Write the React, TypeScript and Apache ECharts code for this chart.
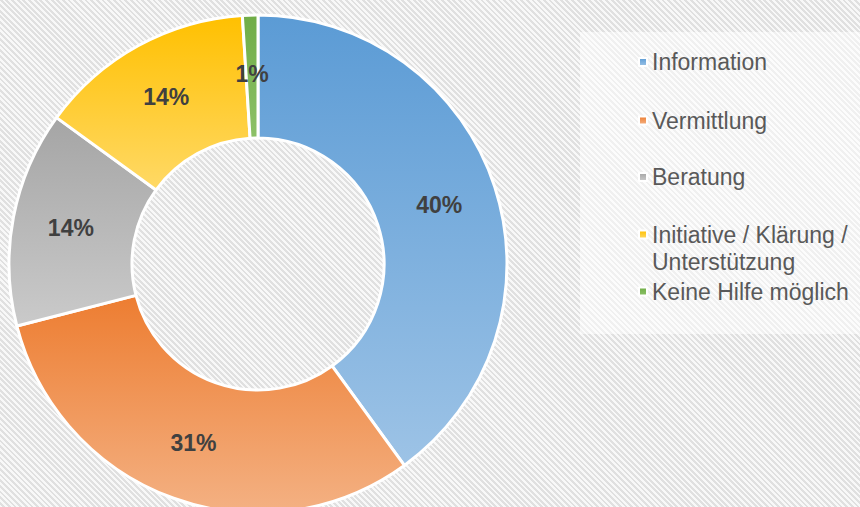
import React, { useEffect, useRef } from "react";
import * as echarts from "echarts";

const categories = [
  "Information",
  "Vermittlung",
  "Beratung",
  "Initiative / Klärung / Unterstützung",
  "Keine Hilfe möglich",
];
const values = [40, 31, 14, 14, 1];
const legendLabels = [
  "Information",
  "Vermittlung",
  "Beratung",
  "\nInitiative / Klärung /\nUnterstützung",
  "Keine Hilfe möglich",
];
const topColors = ["#5b9bd5", "#ed7d31", "#a5a5a5", "#ffc000", "#70ad47"];
const bottomColors = ["#9dc3e6", "#f4b183", "#cacaca", "#ffd966", "#8cc168"];
const legendTops = [48.5, 107, 163.5, 194, 278];

const FONT = "'Liberation Sans', Arial, sans-serif";

export default function App() {
  const ref = useRef<HTMLDivElement>(null);
  useEffect(() => {
    if (!ref.current) return;
    const chart = echarts.init(ref.current, undefined, { renderer: "svg" });
    const data = categories.map((name, i) => ({
      name,
      value: values[i],
      itemStyle: {
        color: new echarts.graphic.LinearGradient(0, 0, 0, 1, [
          { offset: 0, color: topColors[i] },
          { offset: 1, color: bottomColors[i] },
        ]),
      },
    }));
    const legends = categories.map((name, i) => ({
      data: [name],
      left: 638,
      top: legendTops[i],
      orient: "vertical",
      icon: "rect",
      itemWidth: 8,
      itemHeight: 8,
      padding: 0,
      selectedMode: false,
      formatter: () => legendLabels[i],
      textStyle: {
        color: "#595959",
        fontSize: 23,
        lineHeight: 27,
        fontFamily: FONT,
      },
    }));
    chart.setOption({
      animation: false,
      backgroundColor: "transparent",
      graphic: [
        {
          type: "rect",
          left: 580,
          top: 32,
          shape: { width: 280, height: 302 },
          style: { fill: "rgba(255,255,255,0.5)" },
          silent: true,
          z: -1,
        },
      ],
      legend: legends,
      series: [
        {
          type: "pie",
          center: [258, 264],
          radius: [126, 249],
          startAngle: 90,
          clockwise: true,
          avoidLabelOverlap: false,
          itemStyle: { borderColor: "#ffffff", borderWidth: 3 },
          label: {
            show: true,
            position: "inside",
            formatter: (p: any) => Math.round(p.percent) + "%",
            color: "#404040",
            fontSize: 23,
            fontWeight: "bold",
            fontFamily: FONT,
          },
          labelLine: { show: false },
          emphasis: { disabled: true },
          data,
        },
      ],
    });
    return () => chart.dispose();
  }, []);
  return (
    <div
      ref={ref}
      style={{
        position: "absolute",
        left: 0,
        top: 0,
        width: 860,
        height: 507,
        background:
          "repeating-linear-gradient(45deg, #f8f8f8 0px, #f8f8f8 2px, #e0e0e0 2px, #e0e0e0 4px)",
      }}
    />
  );
}
